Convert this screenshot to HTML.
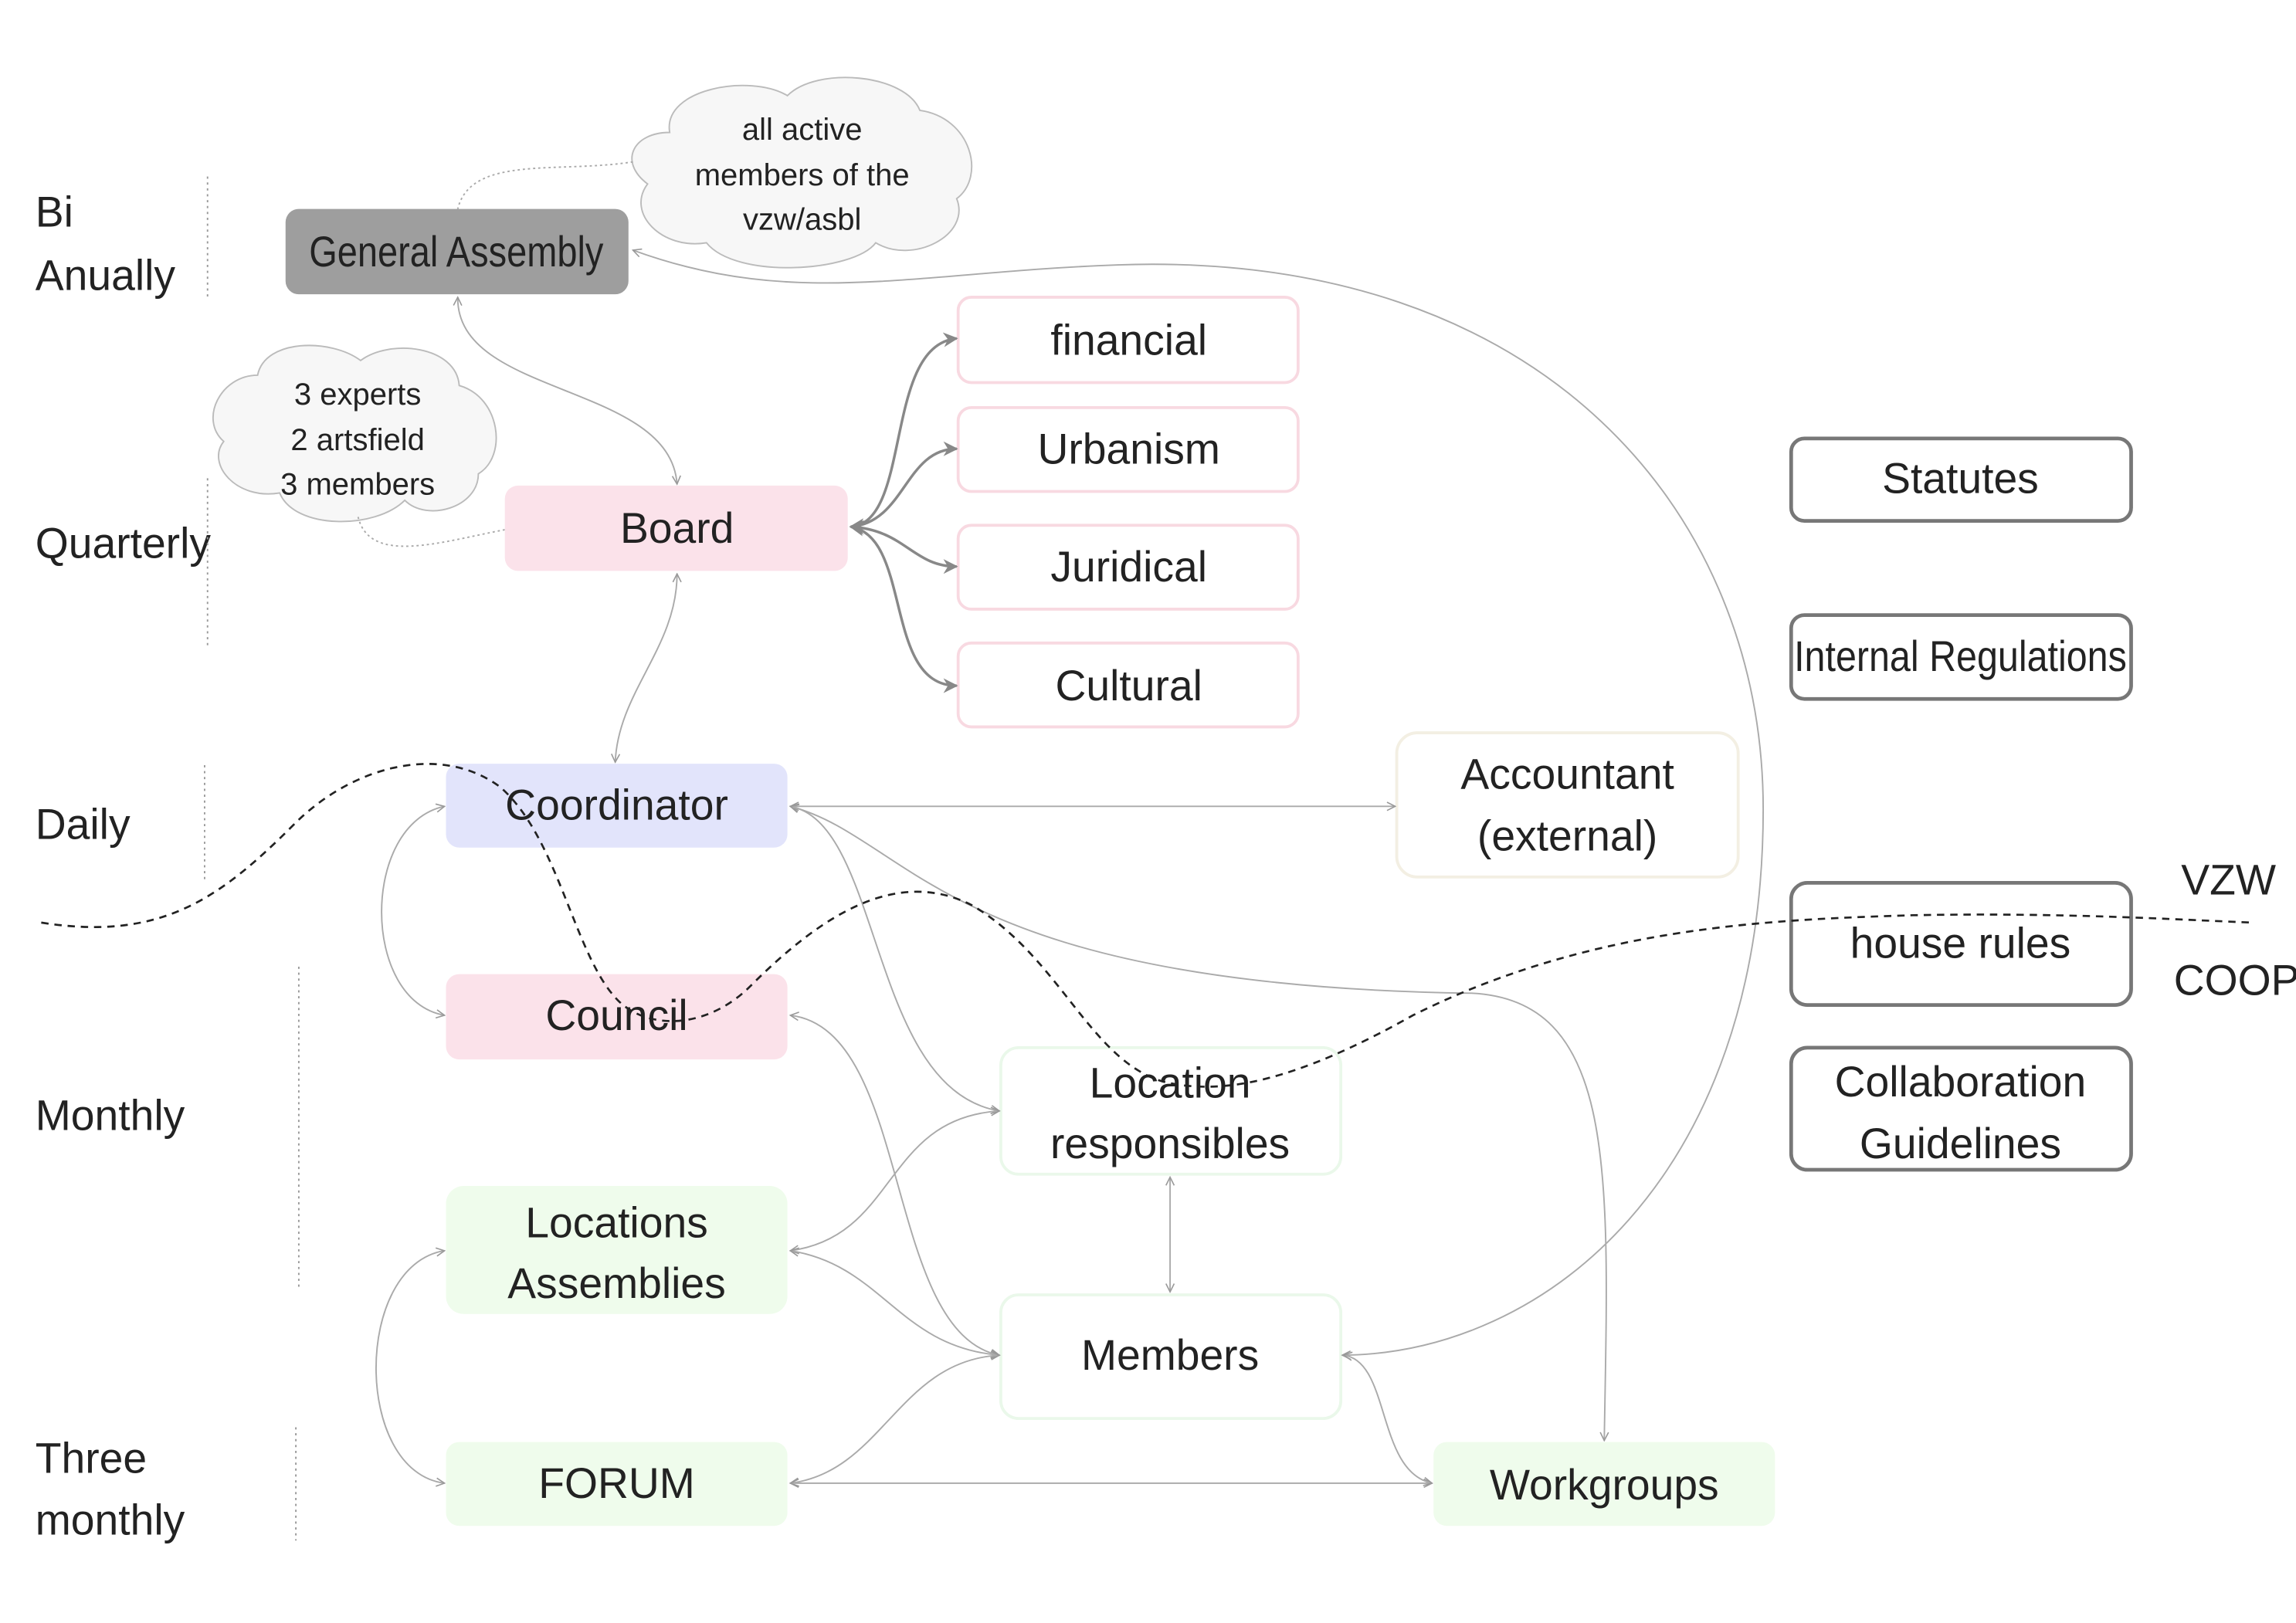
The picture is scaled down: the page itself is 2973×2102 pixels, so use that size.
<!DOCTYPE html>
<html><head><meta charset="utf-8"><style>html,body{margin:0;padding:0;background:#fff}svg{display:block}text{font-family:"Liberation Sans Narrow","Liberation Sans",sans-serif;fill:#222}</style></head><body>
<svg width="2973" height="2102" viewBox="0 0 1560 1103" xmlns="http://www.w3.org/2000/svg">
<defs>
<marker id="a" viewBox="0 0 10 10" refX="9" refY="5" markerWidth="7" markerHeight="7" orient="auto-start-reverse" markerUnits="userSpaceOnUse"><path d="M1,1 L9,5 L1,9" fill="none" stroke="#999" stroke-width="1.2"/></marker>
<marker id="b" viewBox="0 0 10 10" refX="9" refY="5" markerWidth="10" markerHeight="10" orient="auto-start-reverse" markerUnits="userSpaceOnUse"><path d="M0,0 L10,5 L0,10 L3,5z" fill="#888"/></marker>
</defs>
<rect width="1560" height="1103" fill="#fff"/>
<!-- left labels -->
<g font-size="29">
<text x="24" y="154">Bi</text><text x="24" y="197">Anually</text>
<text x="24" y="379">Quarterly</text>
<text x="24" y="570">Daily</text>
<text x="24" y="768">Monthly</text>
<text x="24" y="1001">Three</text><text x="24" y="1043">monthly</text>
<text x="1482" y="608">VZW</text><text x="1477" y="676">COOP</text>
</g>
<g stroke="#999" stroke-width="1" stroke-dasharray="1.5,2.5">
<line x1="141" y1="120" x2="141" y2="202"/><line x1="141" y1="325" x2="141" y2="440"/>
<line x1="139" y1="520" x2="139" y2="598"/><line x1="203" y1="657" x2="203" y2="876"/>
<line x1="201" y1="970" x2="201" y2="1047"/>
</g>
<!-- clouds -->
<g fill="#f7f7f7" stroke="#bbb" stroke-width="1">
<path d="M455,90 C450,60 510,50 535,65 C555,45 615,50 625,75 C660,80 670,120 650,135 C660,160 620,180 595,165 C580,185 500,190 480,165 C450,170 425,145 440,125 C420,110 430,90 455,90 Z"/>
<path d="M175,255 C180,230 225,230 245,245 C265,230 310,235 312,262 C340,270 345,310 325,322 C325,345 290,355 275,340 C255,360 200,360 190,335 C160,340 140,315 152,300 C135,285 150,255 175,255 Z"/>
</g>
<g font-size="21" text-anchor="middle">
<text x="545" y="95">all active</text><text x="545" y="126">members of the</text><text x="545" y="156">vzw/asbl</text>
<text x="243" y="275">3 experts</text><text x="243" y="306">2 artsfield</text><text x="243" y="336">3 members</text>
</g>
<!-- dotted cloud links -->
<g fill="none" stroke="#aaa" stroke-width="1" stroke-dasharray="1.5,2">
<path d="M430,110 C380,118 320,105 311,142"/>
<path d="M343,360 C300,368 250,385 243,350"/>
</g>
<!-- nodes -->
<g stroke-width="2">
<rect x="194" y="142" width="233" height="58" rx="9" fill="#9e9e9e"/>
<rect x="343" y="330" width="233" height="58" rx="9" fill="#fbe2ea"/>
<rect x="651" y="202" width="231" height="58" rx="9" fill="#fff" stroke="#f8d9e1"/>
<rect x="651" y="277" width="231" height="57" rx="9" fill="#fff" stroke="#f8d9e1"/>
<rect x="651" y="357" width="231" height="57" rx="9" fill="#fff" stroke="#f8d9e1"/>
<rect x="651" y="437" width="231" height="57" rx="9" fill="#fff" stroke="#f8d9e1"/>
<rect x="1217" y="298" width="231" height="56" rx="9" fill="#fff" stroke="#777" stroke-width="2.5"/>
<rect x="1217" y="418" width="231" height="57" rx="9" fill="#fff" stroke="#777" stroke-width="2.5"/>
<rect x="1217" y="600" width="231" height="83" rx="11" fill="#fff" stroke="#777" stroke-width="2.5"/>
<rect x="1217" y="712" width="231" height="83" rx="11" fill="#fff" stroke="#777" stroke-width="2.5"/>
<rect x="303" y="519" width="232" height="57" rx="9" fill="#e2e4fb"/>
<rect x="949" y="498" width="232" height="98" rx="14" fill="#fff" stroke="#f3efe3"/>
<rect x="303" y="662" width="232" height="58" rx="9" fill="#fbe2ea"/>
<rect x="680" y="712" width="231" height="86" rx="12" fill="#fff" stroke="#eaf8ea"/>
<rect x="303" y="806" width="232" height="87" rx="12" fill="#effcec"/>
<rect x="680" y="880" width="231" height="84" rx="12" fill="#fff" stroke="#eaf8ea"/>
<rect x="303" y="980" width="232" height="57" rx="9" fill="#effcec"/>
<rect x="974" y="980" width="232" height="57" rx="9" fill="#effcec"/>
</g>
<g font-size="29" text-anchor="middle">
<text x="310" y="181" textLength="200" lengthAdjust="spacingAndGlyphs">General Assembly</text>
<text x="460" y="369">Board</text>
<text x="767" y="241">financial</text>
<text x="767" y="315">Urbanism</text>
<text x="767" y="395">Juridical</text>
<text x="767" y="476">Cultural</text>
<text x="1332" y="335">Statutes</text>
<text x="1332" y="456" textLength="226" lengthAdjust="spacingAndGlyphs">Internal Regulations</text>
<text x="1332" y="651">house rules</text>
<text x="1332" y="745">Collaboration</text><text x="1332" y="787">Guidelines</text>
<text x="419" y="557">Coordinator</text>
<text x="1065" y="536">Accountant</text><text x="1065" y="578">(external)</text>
<text x="419" y="700">Council</text>
<text x="795" y="746">Location</text><text x="795" y="787">responsibles</text>
<text x="419" y="841">Locations</text><text x="419" y="882">Assemblies</text>
<text x="795" y="931">Members</text>
<text x="419" y="1018">FORUM</text>
<text x="1090" y="1019">Workgroups</text>
</g>
<!-- connectors -->
<g fill="none" stroke="#aaa" stroke-width="1" marker-end="url(#a)" marker-start="url(#a)">
<path d="M912,921 C1050,920 1198,800 1198,550 C1198,350 1050,170 760,180 C620,185 540,210 430,170"/>
<path d="M311,202 C310,270 455,260 460,329"/>
<path d="M460,390 C460,440 420,470 418,518"/>
<path d="M302,548 C245,560 245,680 302,690"/>
<path d="M537,548 L948,548"/>
<path d="M537,548 C600,560 590,740 679,755"/>
<path d="M537,548 C620,570 640,670 1000,675 C1100,680 1093,800 1090,979"/>
<path d="M537,690 C620,700 600,905 679,921"/>
<path d="M537,850 C610,840 600,760 679,755"/>
<path d="M537,850 C600,860 610,915 679,921"/>
<path d="M537,1008 C600,1000 610,925 679,921"/>
<path d="M537,1008 L973,1008"/>
<path d="M302,850 C240,860 240,1000 302,1008"/>
<path d="M795,800 L795,878"/>
<path d="M913,921 C945,925 935,1000 973,1008"/>
</g>
<g fill="none" stroke="#888" stroke-width="1.8" marker-start="url(#b)" marker-end="url(#b)">
<path d="M578,358 C620,355 600,235 650,230"/>
<path d="M578,358 C615,355 615,305 650,305"/>
<path d="M578,358 C615,360 620,385 650,385"/>
<path d="M578,358 C620,365 600,466 650,466"/>
</g>
<!-- dashed boundary -->
<path d="M28,627 C110,640 150,610 200,560 C240,520 300,505 340,535 C380,570 390,650 420,680 C440,700 480,700 510,670 C560,620 610,590 660,615 C720,650 740,720 790,735 C830,745 880,735 960,690 C1080,630 1200,625 1300,622 C1400,620 1480,625 1530,627" fill="none" stroke="#222" stroke-width="1.4" stroke-dasharray="5,4"/>
</svg>
</body></html>
